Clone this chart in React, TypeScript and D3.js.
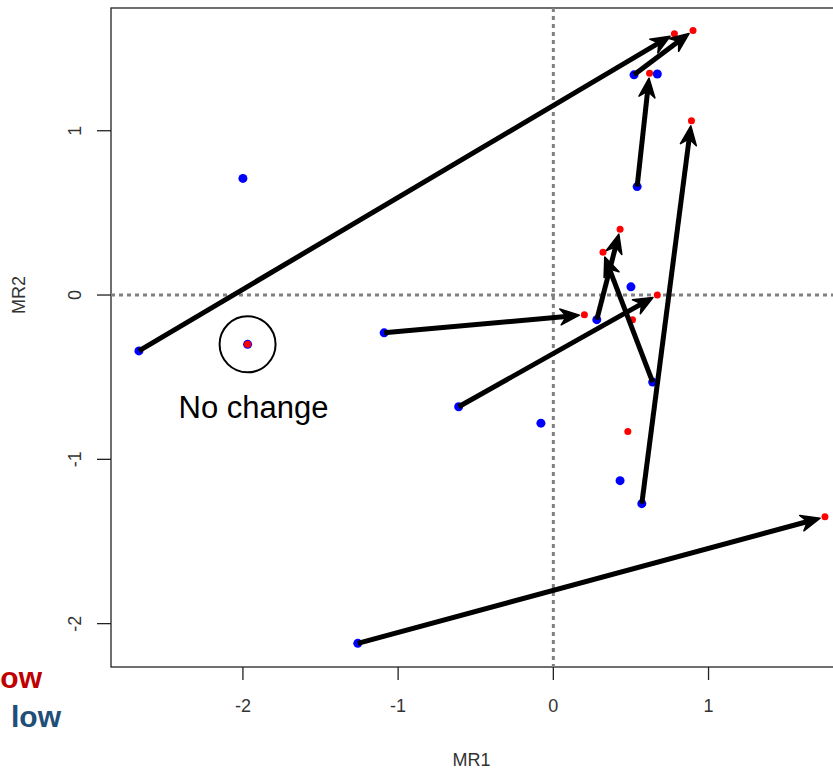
import React, { useEffect, useRef } from "react";
import * as d3 from "d3";

// before (blue) positions
const beforeX = [-2.67, -2.0, -1.97, -1.09, -0.61, -0.08, -1.26, 0.28, 0.5, 0.64, 0.43, 0.57, 0.54, 0.52, 0.67];
const beforeY = [-0.34, 0.71, -0.3, -0.23, -0.68, -0.78, -2.12, -0.15, 0.05, -0.53, -1.13, -1.27, 0.66, 1.34, 1.345];

// after (red) positions
const afterX = [0.78, 0.9, 0.62, 0.89, 0.43, 0.32, 0.67, 0.2, 0.51, 0.48, 1.75, -1.97];
const afterY = [1.59, 1.61, 1.35, 1.06, 0.4, 0.26, 0.0, -0.12, -0.15, -0.83, -1.35, -0.3];

// arrows: index into before -> index into after
const arrowFrom = [0, 13, 12, 11, 6, 3, 4, 7, 9];
const arrowTo = [0, 1, 2, 3, 10, 7, 6, 4, 5];

const xTicks = [-2, -1, 0, 1];
const yTicks = [-2, -1, 0, 1];

export default function App() {
  const svgRef = useRef<SVGSVGElement>(null);

  useEffect(() => {
    const w = 833;
    const h = 769;
    const left = 111, top = 8, right = 840, bottom = 667;

    const svg = d3.select(svgRef.current).attr("width", w).attr("height", h);
    svg.selectAll("*").remove();

    const x = d3.scaleLinear().domain([-2.85, 1.847]).range([left, right]);
    const y = d3.scaleLinear().domain([-2.264, 1.747]).range([bottom, top]);

    const font = "Liberation Sans, Arial, sans-serif";

    // box
    svg.append("rect")
      .attr("x", left).attr("y", top)
      .attr("width", right - left).attr("height", bottom - top)
      .attr("fill", "none").attr("stroke", "#222").attr("stroke-width", 1.3);

    // reference lines
    svg.append("line")
      .attr("x1", x(0)).attr("x2", x(0)).attr("y1", top).attr("y2", bottom)
      .attr("stroke", "#808080").attr("stroke-width", 3).attr("stroke-dasharray", "4,4");
    svg.append("line")
      .attr("x1", left).attr("x2", right).attr("y1", y(0)).attr("y2", y(0))
      .attr("stroke", "#808080").attr("stroke-width", 3).attr("stroke-dasharray", "4,4");

    // x axis
    const xa = svg.append("g");
    xa.selectAll("line").data(xTicks).join("line")
      .attr("x1", (d) => x(d)).attr("x2", (d) => x(d))
      .attr("y1", bottom).attr("y2", bottom + 13)
      .attr("stroke", "#222").attr("stroke-width", 1.3);
    xa.selectAll("text").data(xTicks).join("text")
      .attr("x", (d) => x(d)).attr("y", bottom + 45)
      .attr("text-anchor", "middle")
      .attr("font-family", font).attr("font-size", 18).attr("fill", "#333")
      .text((d) => String(d));

    // y axis
    const ya = svg.append("g");
    ya.selectAll("line").data(yTicks).join("line")
      .attr("x1", left - 14).attr("x2", left)
      .attr("y1", (d) => y(d)).attr("y2", (d) => y(d))
      .attr("stroke", "#222").attr("stroke-width", 1.3);
    ya.selectAll("text").data(yTicks).join("text")
      .attr("transform", (d) => `translate(${left - 30},${y(d)}) rotate(-90)`)
      .attr("text-anchor", "middle")
      .attr("font-family", font).attr("font-size", 18).attr("fill", "#333")
      .text((d) => String(d));

    svg.append("text")
      .attr("x", (left + right) / 2 - 4).attr("y", 766)
      .attr("text-anchor", "middle")
      .attr("font-family", font).attr("font-size", 18).attr("fill", "#333")
      .text("MR1");
    svg.append("text")
      .attr("transform", `translate(25,${y(0)}) rotate(-90)`)
      .attr("text-anchor", "middle")
      .attr("font-family", font).attr("font-size", 18).attr("fill", "#333")
      .text("MR2");

    // points
    svg.append("g").selectAll("circle").data(beforeX).join("circle")
      .attr("cx", (d) => x(d)).attr("cy", (d, i) => y(beforeY[i]))
      .attr("r", 4.5).attr("fill", "#0000ff");
    svg.append("g").selectAll("circle").data(afterX).join("circle")
      .attr("cx", (d) => x(d)).attr("cy", (d, i) => y(afterY[i]))
      .attr("r", 3.5).attr("fill", "#ff0000");

    // arrows
    const ag = svg.append("g");
    arrowFrom.forEach((fi, k) => {
      const ti = arrowTo[k];
      const x1 = x(beforeX[fi]), y1 = y(beforeY[fi]);
      const x2 = x(afterX[ti]), y2 = y(afterY[ti]);
      const ang = Math.atan2(y2 - y1, x2 - x1);
      const ex = x2 - Math.cos(ang) * 5, ey = y2 - Math.sin(ang) * 5;
      const len = 19, half = 8;
      const bx = ex - Math.cos(ang) * len, by = ey - Math.sin(ang) * len;
      const nx = -Math.sin(ang), ny = Math.cos(ang);
      ag.append("line")
        .attr("x1", x1).attr("y1", y1)
        .attr("x2", ex - Math.cos(ang) * 8).attr("y2", ey - Math.sin(ang) * 8)
        .attr("stroke", "#000").attr("stroke-width", 5);
      const head = d3.path();
      head.moveTo(ex, ey);
      head.lineTo(bx + nx * half, by + ny * half);
      head.lineTo(ex - Math.cos(ang) * 13, ey - Math.sin(ang) * 13);
      head.lineTo(bx - nx * half, by - ny * half);
      head.closePath();
      ag.append("path").attr("d", head.toString()).attr("fill", "#000")
        .attr("stroke", "#000").attr("stroke-width", 1.5).attr("stroke-linejoin", "round");
    });

    // no change marker
    svg.append("circle")
      .attr("cx", x(afterX[11])).attr("cy", y(afterY[11]))
      .attr("r", 28).attr("fill", "none").attr("stroke", "#000").attr("stroke-width", 2);
    svg.append("text")
      .attr("x", x(afterX[11]) + 6).attr("y", y(afterY[11]) + 74)
      .attr("text-anchor", "middle")
      .attr("font-family", font).attr("font-size", 31).attr("fill", "#000")
      .text("No change");

    // cut-off slide labels
    svg.append("text")
      .attr("x", 42).attr("y", 688).attr("text-anchor", "end")
      .attr("font-family", font).attr("font-weight", "bold").attr("font-size", 30)
      .attr("fill", "#c00000").text("ow");
    svg.append("text")
      .attr("x", 61).attr("y", 727).attr("text-anchor", "end")
      .attr("font-family", font).attr("font-weight", "bold").attr("font-size", 30)
      .attr("fill", "#1f4e79").text("low");
  }, []);

  return (
    <div>
      <svg ref={svgRef} style={{ position: "absolute", left: 0, top: 0 }}></svg>
    </div>
  );
}
